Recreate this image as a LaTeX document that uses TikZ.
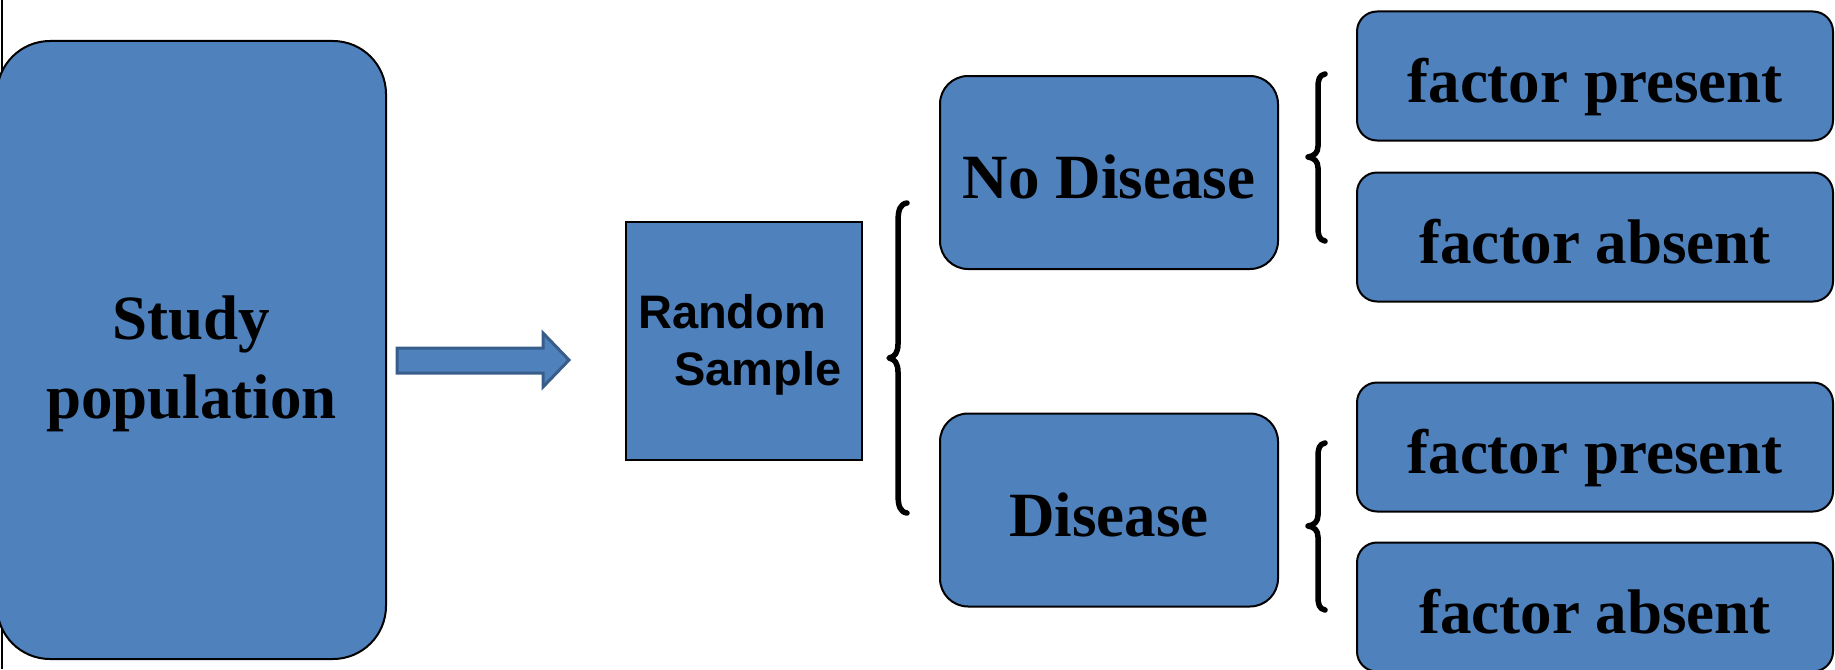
\documentclass[tikz,border=0pt]{standalone}
\usepackage{fontspec}
\setmainfont{Liberation Serif}
\newfontfamily\sansb{Liberation Sans}
\definecolor{boxblue}{HTML}{4F81BD}
\definecolor{arrowedge}{HTML}{385D8A}
\begin{document}
\begin{tikzpicture}[x=1pt,y=-1pt,
  box/.style={draw=black, line width=2pt, fill=boxblue, inner sep=0pt,
    font=\fontsize{63}{76}\selectfont\bfseries, text height=52pt, text depth=0pt},
  bigbox/.style={box, rounded corners=53pt},
  midbox/.style={box, rounded corners=28pt, minimum width=338pt, minimum height=193pt},
  factorbox/.style={box, rounded corners=20pt, minimum width=476pt, minimum height=129pt},
  serifline/.style={inner sep=0pt, font=\fontsize{63}{76}\selectfont\bfseries, anchor=base},
  sansline/.style={inner sep=0pt, font=\sansb\bfseries\fontsize{47}{57}\selectfont, anchor=base west},
  bracepath/.style={line width=5.5pt, line cap=round, line join=round},
  fatarrow/.style={fill=boxblue, draw=arrowedge, line width=3pt, line join=miter}
]
\useasboundingbox (0,0) rectangle (1835,669);

% left edge line
\coordinate (edgetop) at (1.5,0);
\coordinate (edgebot) at (1.5,669);
\draw[line width=2pt] (edgetop) -- (edgebot);

% study population
\node[bigbox, minimum width=389pt, minimum height=618pt] (study) at (191.5,350) {};
\node[serifline] (studyA) at ([yshift=11pt]study.center) {Study};
\node[serifline] (studyB) at ([yshift=-68pt]study.center) {population};

% random sample
\node[box, minimum width=236pt, minimum height=238pt] (sample) at (744,341) {};
\node[sansline] (sampleA) at ([xshift=13pt,yshift=13pt]sample.west) {Random};
\node[sansline] (sampleB) at ([xshift=49pt,yshift=-44pt]sample.west) {Sample};

% disease boxes
\node[midbox] (nodis) at (1109,172.5) {No Disease};
\node[midbox] (dis) at (1109,510) {Disease};

% factor boxes
\node[factorbox] (fp1) at (1595,76) {factor present};
\node[factorbox] (fa1) at (1595,237) {factor absent};
\node[factorbox] (fp2) at (1595,447) {factor present};
\node[factorbox] (fa2) at (1595,607) {factor absent};

% block arrow
\draw[fatarrow] (397,348) -- (543,348) -- (543,333) -- (569,360) -- (543,387) -- (543,373) -- (397,373) -- cycle;

% braces
\draw[bracepath] (907,203) .. controls (900,204) and (898,210) .. (898,222) -- (898,344)
  .. controls (898,352) and (895,357) .. (889,358) .. controls (895,359) and (898,364) .. (898,372)
  -- (898,494) .. controls (898,506) and (900,512) .. (907,513);
\draw[bracepath] (1325,74) .. controls (1319,75) and (1318,80) .. (1318,88) -- (1318,146)
  .. controls (1318,153) and (1314,156) .. (1308,157) .. controls (1314,158) and (1318,161) .. (1318,168)
  -- (1318,227) .. controls (1318,235) and (1319,240) .. (1325,241);
\draw[bracepath] (1325,443) .. controls (1319,444) and (1318,449) .. (1318,457) -- (1318,515)
  .. controls (1318,522) and (1314,525) .. (1308,526) .. controls (1314,527) and (1318,530) .. (1318,537)
  -- (1318,596) .. controls (1318,604) and (1319,609) .. (1325,610);
\end{tikzpicture}
\end{document}
